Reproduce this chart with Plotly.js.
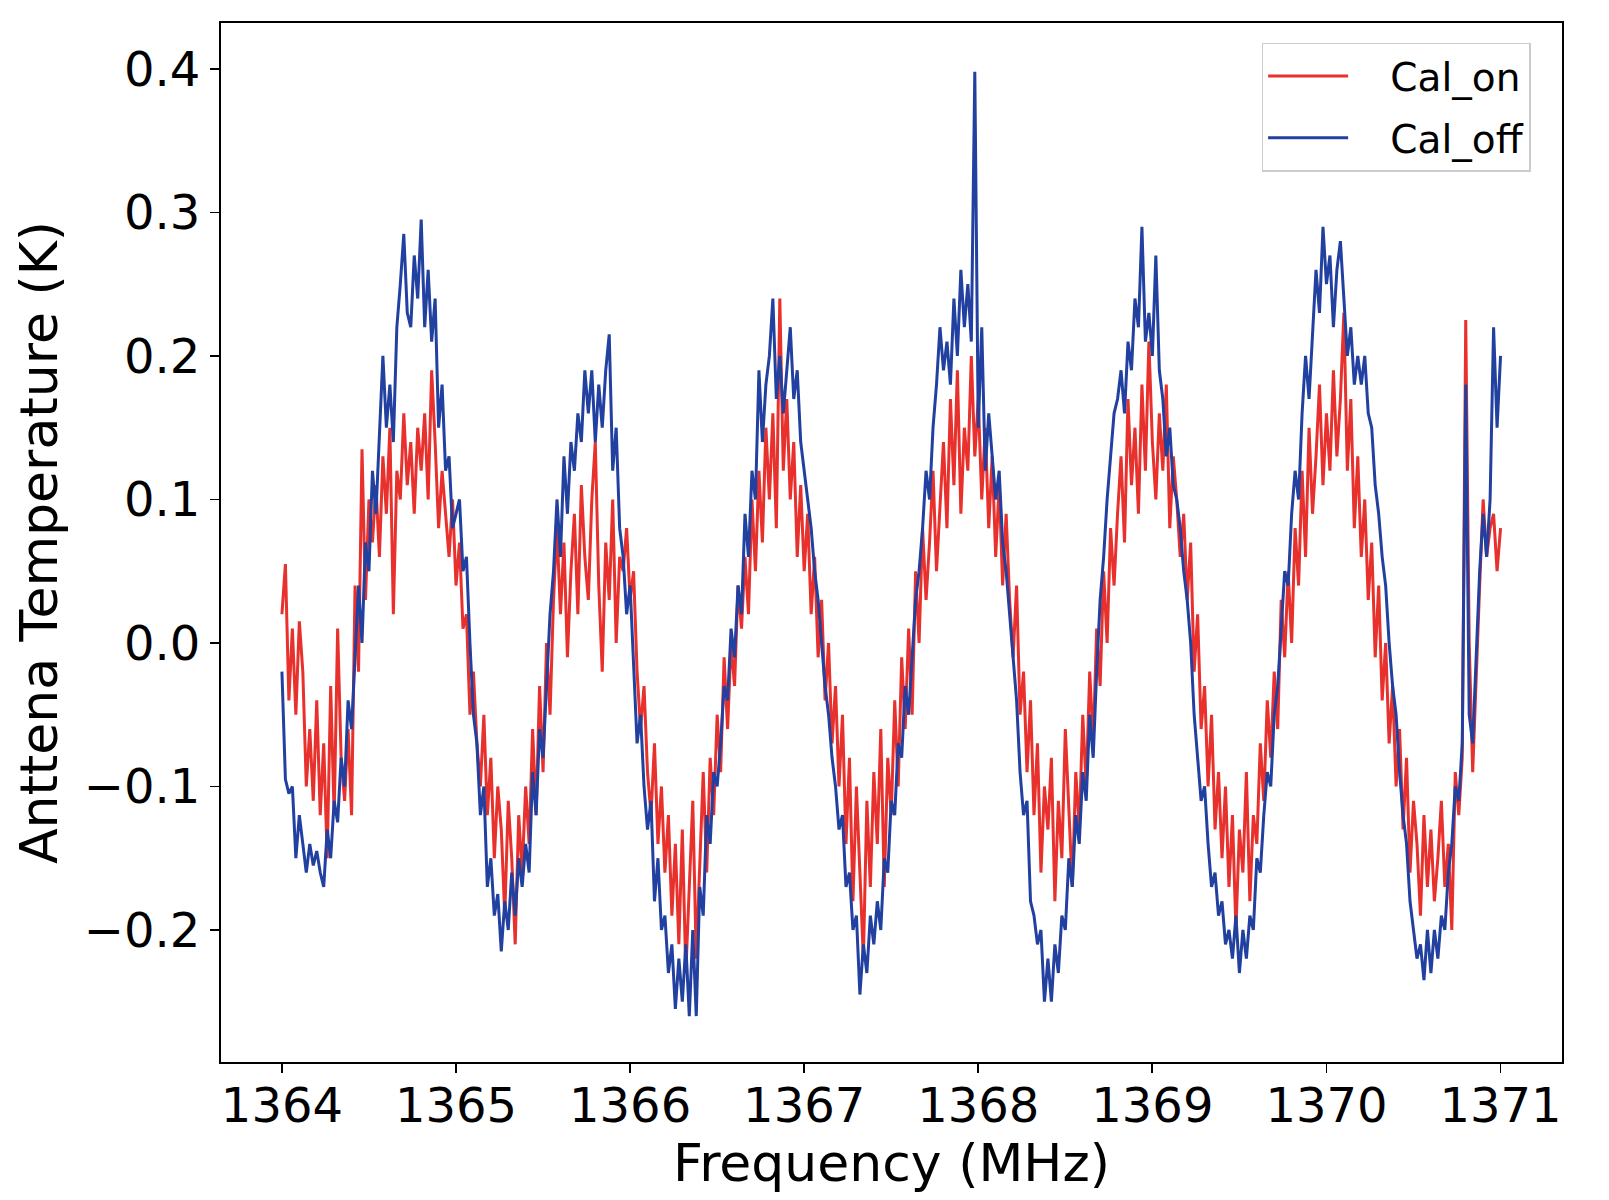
<!DOCTYPE html>
<html>
<head>
<meta charset="utf-8">
<script src="https://cdn.plot.ly/plotly-3.0.1.min.js"></script>
<style>html,body{margin:0;padding:0;background:#fff;}#chart{width:1609px;height:1200px;}</style>
</head>
<body>
<div id="chart"></div>
<script>
// Frequency grid (MHz)
const freqStart = 1364.0;
const freqStep = 0.02;

// Cal_on (red) antenna temperature, K
const calOn = [
  0.02, 0.055, -0.04, 0.01, -0.05, 0.015, -0.02, -0.10, -0.06, -0.11,
  -0.04, -0.12, -0.07, -0.15, -0.03, -0.12, 0.01, -0.08, -0.11, -0.06,
  -0.12, 0.04, -0.02, 0.135, 0.03, 0.10, 0.07, 0.11, 0.06, 0.13,
  0.09, 0.15, 0.02, 0.12, 0.10, 0.16, 0.11, 0.14, 0.09, 0.15,
  0.12, 0.16, 0.10, 0.19, 0.14, 0.08, 0.12, 0.09, 0.06, 0.10,
  0.04, 0.07, 0.01, 0.02, -0.05, -0.02, -0.07, -0.10, -0.05, -0.12,
  -0.08, -0.15, -0.10, -0.13, -0.19, -0.11, -0.15, -0.21, -0.12, -0.16,
  -0.10, -0.14, -0.06, -0.12, -0.03, -0.09, 0.00, -0.05, 0.03, 0.08,
  0.02, 0.07, -0.01, 0.05, 0.09, 0.02, 0.11, 0.06, 0.03, 0.10,
  0.14, 0.04, -0.02, 0.07, 0.03, 0.10, 0.00, 0.06, 0.05, 0.08,
  0.03, 0.05, -0.02, -0.06, -0.03, -0.09, -0.12, -0.07, -0.14, -0.10,
  -0.16, -0.12, -0.19, -0.14, -0.21, -0.13, -0.23, -0.17, -0.11, -0.22,
  -0.15, -0.09, -0.16, -0.08, -0.12, -0.05, -0.09, -0.01, -0.06, 0.00,
  -0.03, 0.04, 0.01, 0.06, 0.02, 0.10, 0.05, 0.12, 0.07, 0.15,
  0.10, 0.16, 0.08, 0.24, 0.12, 0.17, 0.10, 0.14, 0.06, 0.11,
  0.05, 0.09, 0.02, 0.06, -0.01, 0.03, -0.04, 0.00, -0.07, -0.03,
  -0.10, -0.05, -0.14, -0.08, -0.18, -0.10, -0.16, -0.22, -0.11, -0.17,
  -0.09, -0.14, -0.06, -0.17, -0.08, -0.12, -0.04, -0.10, -0.01, -0.06,
  0.01, -0.05, 0.05, 0.00, 0.08, 0.03, 0.07, 0.12, 0.05, 0.10,
  0.14, 0.08, 0.17, 0.11, 0.19, 0.09, 0.15, 0.12, 0.20, 0.13,
  0.17, 0.10, 0.15, 0.08, 0.13, 0.06, 0.11, 0.04, 0.09, 0.03,
  -0.01, 0.04, -0.05, -0.02, -0.09, -0.04, -0.12, -0.07, -0.16, -0.10,
  -0.13, -0.08, -0.18, -0.11, -0.15, -0.06, -0.12, -0.17, -0.09, -0.13,
  -0.05, -0.10, -0.02, -0.07, 0.01, -0.03, 0.05, 0.00, 0.08, 0.04,
  0.09, 0.13, 0.07, 0.17, 0.11, 0.15, 0.09, 0.18, 0.12, 0.21,
  0.14, 0.10, 0.16, 0.12, 0.18, 0.08, 0.13, 0.10, 0.06, 0.09,
  0.03, 0.07, -0.02, 0.02, -0.06, -0.03, -0.10, -0.05, -0.13, -0.09,
  -0.15, -0.10, -0.17, -0.12, -0.20, -0.13, -0.16, -0.09, -0.18, -0.12,
  -0.14, -0.07, -0.11, -0.04, -0.08, -0.02, -0.06, 0.03, -0.01, 0.05,
  0.00, 0.08, 0.04, 0.12, 0.06, 0.15, 0.09, 0.13, 0.18, 0.11,
  0.16, 0.12, 0.19, 0.13, 0.17, 0.23, 0.12, 0.17, 0.08, 0.13,
  0.06, 0.10, 0.03, 0.07, -0.01, 0.04, -0.04, 0.00, -0.07, -0.03,
  -0.10, -0.06, -0.13, -0.08, -0.16, -0.11, -0.14, -0.19, -0.12, -0.17,
  -0.13, -0.18, -0.15, -0.11, -0.17, -0.14, -0.20, -0.09, -0.12, -0.08,
  0.225, 0.00, -0.09, -0.02, 0.04, 0.10, 0.06, 0.08, 0.09, 0.05,
  0.08
];

// Cal_off (blue) antenna temperature, K
const calOff = [
  -0.02, -0.095, -0.105, -0.10, -0.15, -0.12, -0.14, -0.16, -0.14, -0.155,
  -0.145, -0.16, -0.17, -0.13, -0.15, -0.11, -0.125, -0.08, -0.10, -0.04,
  -0.06, -0.01, 0.04, 0.00, 0.07, 0.05, 0.12, 0.09, 0.14, 0.20,
  0.15, 0.18, 0.14, 0.22, 0.25, 0.285, 0.23, 0.22, 0.27, 0.24,
  0.295, 0.22, 0.26, 0.21, 0.24, 0.15, 0.18, 0.12, 0.13, 0.08,
  0.09, 0.10, 0.05, 0.06, 0.00, -0.05, -0.07, -0.12, -0.10, -0.17,
  -0.15, -0.19, -0.175, -0.215, -0.18, -0.20, -0.16, -0.19, -0.15, -0.17,
  -0.14, -0.16, -0.09, -0.12, -0.06, -0.08, -0.03, 0.02, 0.05, 0.10,
  0.06, 0.13, 0.09, 0.14, 0.12, 0.16, 0.14, 0.19, 0.16, 0.19,
  0.14, 0.18, 0.15, 0.19, 0.215, 0.12, 0.15, 0.08, 0.06, 0.02,
  0.04, -0.02, -0.07, -0.05, -0.10, -0.13, -0.11, -0.18, -0.15, -0.20,
  -0.19, -0.23, -0.21, -0.255, -0.22, -0.25, -0.21, -0.26, -0.20, -0.26,
  -0.17, -0.19, -0.12, -0.14, -0.09, -0.10, -0.07, -0.03, -0.04, 0.01,
  -0.01, 0.04, 0.02, 0.09, 0.06, 0.12, 0.10, 0.19, 0.14, 0.18,
  0.20, 0.24, 0.17, 0.20, 0.16, 0.19, 0.22, 0.17, 0.19, 0.14,
  0.12, 0.10, 0.08, 0.05, 0.03, 0.00, -0.03, -0.05, -0.08, -0.10,
  -0.13, -0.12, -0.17, -0.16, -0.20, -0.19, -0.245, -0.21, -0.23, -0.19,
  -0.21, -0.18, -0.20, -0.15, -0.16, -0.11, -0.12, -0.07, -0.08, -0.03,
  -0.05, -0.01, 0.03, 0.05, 0.08, 0.12, 0.10, 0.15, 0.18, 0.22,
  0.19, 0.21, 0.18, 0.24, 0.20, 0.26, 0.22, 0.25, 0.21, 0.398,
  0.15, 0.22, 0.12, 0.16, 0.13, 0.10, 0.12, 0.07, 0.05, 0.02,
  -0.01, -0.04, -0.09, -0.12, -0.11, -0.18, -0.19, -0.21, -0.20, -0.25,
  -0.22, -0.25, -0.21, -0.23, -0.19, -0.20, -0.15, -0.17, -0.12, -0.14,
  -0.09, -0.11, -0.05, -0.08, -0.02, 0.03, 0.06, 0.10, 0.13, 0.16,
  0.17, 0.19, 0.16, 0.21, 0.19, 0.24, 0.22, 0.29, 0.21, 0.23,
  0.20, 0.27, 0.19, 0.17, 0.13, 0.15, 0.11, 0.10, 0.08, 0.05,
  0.03, 0.00, -0.05, -0.08, -0.11, -0.10, -0.14, -0.17, -0.16, -0.19,
  -0.18, -0.21, -0.20, -0.22, -0.19, -0.23, -0.20, -0.22, -0.19, -0.20,
  -0.15, -0.16, -0.12, -0.09, -0.10, -0.05, -0.03, 0.01, 0.05, 0.04,
  0.09, 0.12, 0.10, 0.16, 0.20, 0.17, 0.22, 0.26, 0.23, 0.29,
  0.25, 0.27, 0.22, 0.26, 0.28, 0.24, 0.20, 0.22, 0.18, 0.20,
  0.18, 0.20, 0.16, 0.15, 0.11, 0.09, 0.06, 0.04, 0.00, -0.03,
  -0.05, -0.09, -0.12, -0.14, -0.18, -0.20, -0.22, -0.21, -0.235, -0.20,
  -0.23, -0.20, -0.22, -0.19, -0.20, -0.16, -0.14, -0.10, -0.11, -0.07,
  0.18, -0.05, -0.07, -0.01, 0.05, 0.09, 0.06, 0.10, 0.22, 0.15,
  0.20
];

const xTicks = [1364, 1365, 1366, 1367, 1368, 1369, 1370, 1371];
const yTicks = [-0.2, -0.1, 0.0, 0.1, 0.2, 0.3, 0.4];
const seriesNames = ['Cal_on', 'Cal_off'];

const freq = calOn.map((_, i) => +(freqStart + i * freqStep).toFixed(3));

const font = 'DejaVu Sans, sans-serif';
const pad = '\u00a0\u00a0\u00a0';

const traces = [
  {x: freq, y: calOn, name: pad + seriesNames[0], legendgroup: 'on', type: 'scatter', mode: 'lines',
   line: {color: '#e8302c', width: 3}},
  {x: freq, y: calOff, name: pad + seriesNames[1], legendgroup: 'off', type: 'scatter', mode: 'lines',
   line: {color: '#2140a0', width: 3}}
];

const axisCommon = {
  showgrid: false, zeroline: false,
  showline: true, mirror: true, linecolor: '#000', linewidth: 2,
  ticks: 'outside', ticklen: 9, tickwidth: 1.8, tickcolor: '#000',
  tickfont: {family: font, size: 48, color: '#000'}
};

const layout = {
  width: 1609, height: 1200,
  margin: {l: 221, r: 47, t: 23, b: 138},
  paper_bgcolor: '#fff', plot_bgcolor: '#fff',
  font: {family: font, color: '#000'},
  showlegend: true,
  xaxis: Object.assign({}, axisCommon, {
    range: [1363.65, 1371.353],
    tickmode: 'array', tickvals: xTicks, ticktext: xTicks.map(String),
    ticklabelstandoff: -9,
    title: {text: 'Frequency (MHz)', font: {family: font, size: 52, color: '#000'}, standoff: 8}
  }),
  yaxis: Object.assign({}, axisCommon, {
    range: [-0.292, 0.432],
    tickmode: 'array', tickvals: yTicks, tickformat: '.1f',
    title: {text: 'Anttena Temperature (K)', font: {family: font, size: 52, color: '#000'}, standoff: 10}
  }),
  legend: {
    x: 0.776, y: 0.981, xanchor: 'left', yanchor: 'top',
    bgcolor: 'rgba(255,255,255,0.85)', bordercolor: '#cccccc', borderwidth: 1.5,
    font: {family: font, size: 39, color: '#000'},
    itemwidth: 80, tracegroupgap: 8
  }
};

Plotly.newPlot('chart', traces, layout, {staticPlot: true, displayModeBar: false});
</script>
</body>
</html>
